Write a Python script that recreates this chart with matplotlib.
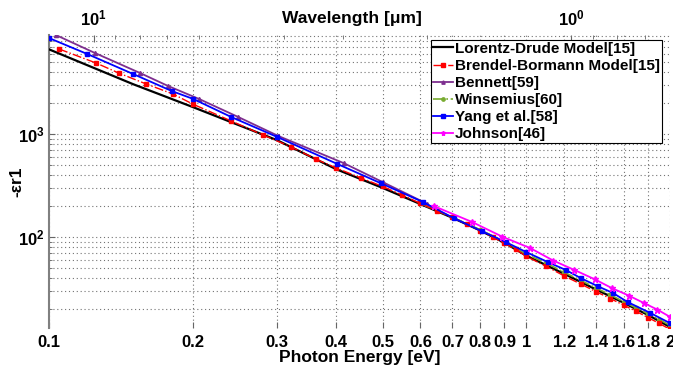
import numpy as np
import matplotlib
matplotlib.use('Agg')
import matplotlib.pyplot as plt
from matplotlib.ticker import FixedLocator, FixedFormatter, LogLocator, NullFormatter

plt.rcParams['font.family'] = ['Liberation Sans', 'DejaVu Sans']
plt.rcParams['font.weight'] = 'bold'
plt.rcParams['mathtext.fontset'] = 'custom'
plt.rcParams['mathtext.rm'] = 'Liberation Sans:bold'
plt.rcParams['mathtext.bf'] = 'Liberation Sans:bold'
plt.rcParams['mathtext.it'] = 'Liberation Sans:bold'
plt.rcParams['mathtext.default'] = 'rm'

# ---------------- data (photon energy in eV, -eps1) ----------------
ld_E = [0.1, 0.15, 0.2, 0.3, 0.4, 0.5, 0.6, 0.7, 0.8, 0.9, 1.0, 1.2, 1.4, 1.6, 1.8, 2.0]
ld_v = [6640, 3050, 1830, 874, 455, 300, 209, 154, 116, 88, 66, 44, 31, 23, 17.5, 13.4]

bb_E = [0.105, 0.1255, 0.14, 0.16, 0.182, 0.2, 0.241, 0.281, 0.322, 0.362, 0.4,
        0.45, 0.5, 0.55, 0.6, 0.65, 0.7, 0.75, 0.8, 0.85, 0.9, 0.95, 1.0, 1.1,
        1.2, 1.3, 1.4, 1.5, 1.6, 1.7, 1.8, 1.9, 2.0]
bb_v = [6690, 4890, 3910, 3055, 2445, 1955, 1337, 978, 748, 572, 468,
        375, 310, 255, 212, 180, 155, 133, 115, 100, 87, 76, 65, 52,
        42, 35, 29.5, 25.3, 21.8, 19, 16.5, 14.5, 12.7]

ben_E = [0.1034, 0.1249, 0.1552, 0.1777, 0.2064, 0.2493, 0.3024, 0.414, 0.5, 0.62]
ben_v = [9140, 6110, 3910, 2925, 2187, 1462, 957, 523, 342, 210]

win_E = [0.6, 0.7, 0.8, 0.9, 1.0, 1.1, 1.2, 1.3, 1.4, 1.5, 1.6, 1.7, 1.8, 1.9, 2.0]
win_v = [212, 156, 118, 90, 68, 56, 45.5, 38, 32, 27.5, 23.5, 20.5, 18, 15.8, 13.9]

yang_E = [0.1, 0.1202, 0.150, 0.181, 0.2006, 0.241, 0.301, 0.402, 0.495, 0.607,
          0.704, 0.807, 0.906, 1.0, 1.109, 1.21, 1.30, 1.41, 1.52, 1.63, 1.82, 2.0]
yang_v = [8550, 5990, 3830, 2610, 2190, 1462, 935, 512, 334, 219,
          153, 114, 89.3, 71.4, 57.2, 47.9, 40, 33.4, 28.6, 23.4, 18.3, 14.6]

jc_E = [0.64, 0.77, 0.89, 1.02, 1.14, 1.26, 1.39, 1.51, 1.64, 1.76, 1.88, 2.0]
jc_v = [200, 140, 101, 78, 59, 48, 39, 32, 27, 23, 19.8, 16.8]

xticks = [0.1, 0.2, 0.3, 0.4, 0.5, 0.6, 0.7, 0.8, 0.9, 1, 1.2, 1.4, 1.6, 1.8, 2]
xtick_labels = ['0.1', '0.2', '0.3', '0.4', '0.5', '0.6', '0.7', '0.8', '0.9', '1',
                '1.2', '1.4', '1.6', '1.8', '2']
top_ticks = [1, 10]
top_labels = [r'$10^{0}$', r'$10^{1}$']

# ---------------- figure ----------------
W, H = 673, 370
fig = plt.figure(figsize=(W / 100, H / 100), dpi=100)
ax = fig.add_axes([49 / W, 1 - 328 / H, 621 / W, 293 / H])
ax.set_xscale('log')
ax.set_yscale('log')
ax.set_xlim(0.1, 2)
ax.set_ylim(13.1, 9150)

ax.plot(ld_E, ld_v, color='black', lw=1.6, label='Lorentz-Drude Model[15]', zorder=3)
ax.plot(bb_E, bb_v, color='red', lw=1.0, ls='-.', marker='s', ms=3,
        label='Brendel-Bormann Model[15]', zorder=4)
ax.plot(ben_E, ben_v, color=(0.49, 0.18, 0.56), lw=1.3, marker='^', ms=3,
        label='Bennett[59]', zorder=3)
ax.plot(win_E, win_v, color=(0.47, 0.67, 0.19), lw=1.2, ls='-.', marker='o', ms=3,
        label='Winsemius[60]', zorder=3)
ax.plot(yang_E, yang_v, color='blue', lw=1.3, marker='s', ms=3.5,
        label='Yang et al.[58]', zorder=5)
ax.plot(jc_E, jc_v, color='magenta', lw=1.3, marker='*', ms=4.5,
        label='Johnson[46]', zorder=5)

# x ticks
ax.xaxis.set_major_locator(FixedLocator(xticks))
ax.xaxis.set_major_formatter(FixedFormatter(xtick_labels))
ax.xaxis.set_minor_locator(FixedLocator([]))
ax.tick_params(axis='x', which='major', direction='in', length=4, color='0.4',
               labelsize=12, pad=5)
ax.tick_params(axis='y', which='major', direction='in', length=4, color='0.4',
               labelsize=12, pad=3)
ax.tick_params(axis='y', which='minor', direction='in', length=2, color='0.4')
ax.yaxis.set_major_locator(LogLocator(base=10))
ax.yaxis.set_minor_locator(LogLocator(base=10, subs=np.arange(2, 10)))
ax.yaxis.set_minor_formatter(NullFormatter())

ax.grid(True, which='major', axis='x', color='0.45', ls=(0, (1, 2.5)), lw=0.8)
ax.grid(True, which='both', axis='y', color='0.45', ls=(0, (1, 2.5)), lw=0.8)

for s in ['top', 'right', 'bottom']:
    ax.spines[s].set_visible(False)
ax.spines['left'].set_color('0.5')
ax.spines['left'].set_linewidth(1.5)

ax.set_xlabel('Photon Energy [eV]', fontsize=12.5, fontweight='bold', labelpad=0)
ax.set_ylabel('-εr1', fontsize=12.5, fontweight='bold')
ax.yaxis.set_label_coords((24 - 49) / 621, 0.5)

# top wavelength axis
def e2l(x):
    x = np.asarray(x, dtype=float)
    return 1.2398 / np.where(x == 0, 1e-9, x)

sec = ax.secondary_xaxis('top', functions=(e2l, e2l))
sec.xaxis.set_major_locator(FixedLocator(top_ticks))
sec.xaxis.set_major_formatter(FixedFormatter(top_labels))
sec.xaxis.set_minor_locator(LogLocator(base=10, subs=np.arange(2, 10)))
sec.xaxis.set_minor_formatter(NullFormatter())
sec.tick_params(axis='x', which='major', direction='in', length=5, color='0.4',
                labelsize=12, pad=5)
sec.tick_params(axis='x', which='minor', direction='in', length=3, color='0.4')
sec.spines['top'].set_visible(False)
fig.text(352 / W, 1 - 19 / H, 'Wavelength [μm]', ha='center', va='center',
         fontsize=12.5, fontweight='bold')

leg = ax.legend(loc='upper right', bbox_to_anchor=((662 - 49) / 621, (328 - 40) / 293),
                borderaxespad=0, fontsize=11, frameon=True, fancybox=False,
                framealpha=1, edgecolor='black', handlelength=1.3,
                handletextpad=0.15, labelspacing=0.2, borderpad=0.12,
                markerscale=0.8)
leg.get_frame().set_linewidth(0.8)
leg.set_zorder(10)

fig.savefig('out.png', dpi=100)
